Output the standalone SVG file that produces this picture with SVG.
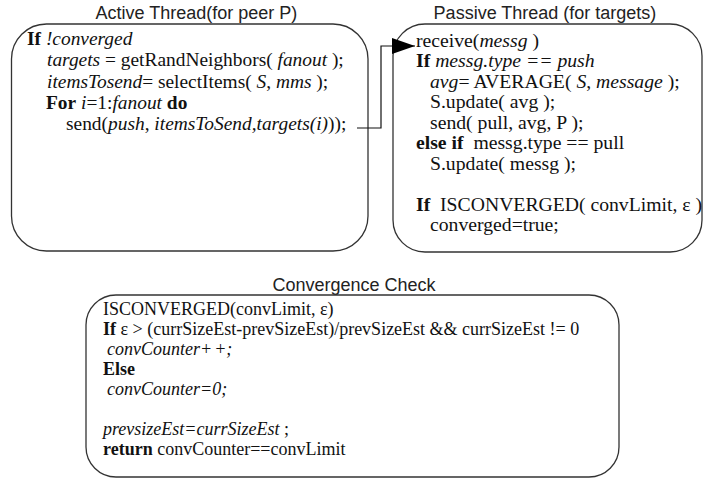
<svg xmlns="http://www.w3.org/2000/svg" width="703" height="480" viewBox="0 0 703 480">
<defs>
<style>
.box{fill:#fff;stroke:#333;stroke-width:1.3}
.title{font-family:"Liberation Sans",Arial,sans-serif;font-size:18px;fill:#222;text-anchor:middle}
.code{font-family:"Liberation Serif","Times New Roman",serif;font-size:18px;fill:#111;white-space:pre}
.big{font-size:19.4px}
.big2{font-size:19.7px}
.b{font-weight:bold}
.i{font-style:italic}
.conn{fill:none;stroke:#111;stroke-width:1.2}
</style>
<marker id="arr" markerWidth="23" markerHeight="16" refX="23" refY="8" orient="auto" markerUnits="userSpaceOnUse">
<polygon points="0,0 23,8 0,16" fill="#000"/>
</marker>
</defs>
<rect width="703" height="480" fill="#fff"/>

<g id="active">
<text class="title" x="196.5" y="19">Active Thread(for peer P)</text>
<rect class="box" x="11.5" y="24" width="356.5" height="227" rx="35" ry="35"/>
<text class="code big" x="27" y="45"><tspan class="b">If</tspan> <tspan class="i">!converged</tspan></text>
<text class="code big" x="47" y="66"><tspan class="i">targets</tspan> = getRandNeighbors( <tspan class="i">fanout</tspan> );</text>
<text class="code big" x="47" y="87.5"><tspan class="i">itemsTosend</tspan>= selectItems( <tspan class="i">S</tspan>, <tspan class="i">mms</tspan> );</text>
<text class="code big" x="46" y="108.5"><tspan class="b">For</tspan> <tspan class="i">i</tspan>=1:<tspan class="i">fanout</tspan> <tspan class="b">do</tspan></text>
<text class="code big" x="66" y="130">send(<tspan class="i">push</tspan>, <tspan class="i">itemsToSend,targets(i)</tspan>));</text>
</g>

<g id="passive">
<text class="title" x="545" y="19">Passive Thread (for targets)</text>
<rect class="box" x="393" y="24" width="309" height="228" rx="32" ry="32"/>
<text class="code big2" x="416" y="46.5">receive(<tspan class="i">messg</tspan> )</text>
<text class="code big2" x="416" y="67"><tspan class="b">If</tspan> <tspan class="i">messg.type == push</tspan></text>
<text class="code big2" x="430" y="87.5"><tspan class="i">avg</tspan>= AVERAGE( <tspan class="i">S</tspan>, <tspan class="i">message</tspan> );</text>
<text class="code big2" x="430" y="108">S.update( avg );</text>
<text class="code big2" x="430" y="128.5">send( pull, avg, P );</text>
<text class="code big2" x="416" y="149"><tspan class="b">else if</tspan>  messg.type == pull</text>
<text class="code big2" x="430" y="169.5">S.update( messg );</text>
<text class="code big2" x="416" y="210.5"><tspan class="b">If</tspan>  ISCONVERGED( convLimit, ε )</text>
<text class="code big2" x="430" y="231">converged=true;</text>
</g>

<g id="convergence">
<text class="title" x="354" y="291">Convergence Check</text>
<rect class="box" x="86" y="295" width="533" height="182" rx="30" ry="30"/>
<text class="code" x="103" y="315">ISCONVERGED(convLimit, ε)</text>
<text class="code" x="103" y="335"><tspan class="b">If</tspan> ε &gt; (currSizeEst-prevSizeEst)/prevSizeEst &amp;&amp; currSizeEst != 0</text>
<text class="code" x="107" y="355"><tspan class="i">convCounter+</tspan><tspan class="i" dx="2">+;</tspan></text>
<text class="code" x="103" y="375"><tspan class="b">Else</tspan></text>
<text class="code" x="107" y="395"><tspan class="i">convCounter=0;</tspan></text>
<text class="code" x="103" y="435"><tspan class="i">prevsizeEst=currSizeEst</tspan> ;</text>
<text class="code" x="103" y="455"><tspan class="b">return</tspan> convCounter==convLimit</text>
</g>

<g id="connectors">
<polyline class="conn" points="357,128 381,128 381,46 415,46" marker-end="url(#arr)"/>
</g>
</svg>
